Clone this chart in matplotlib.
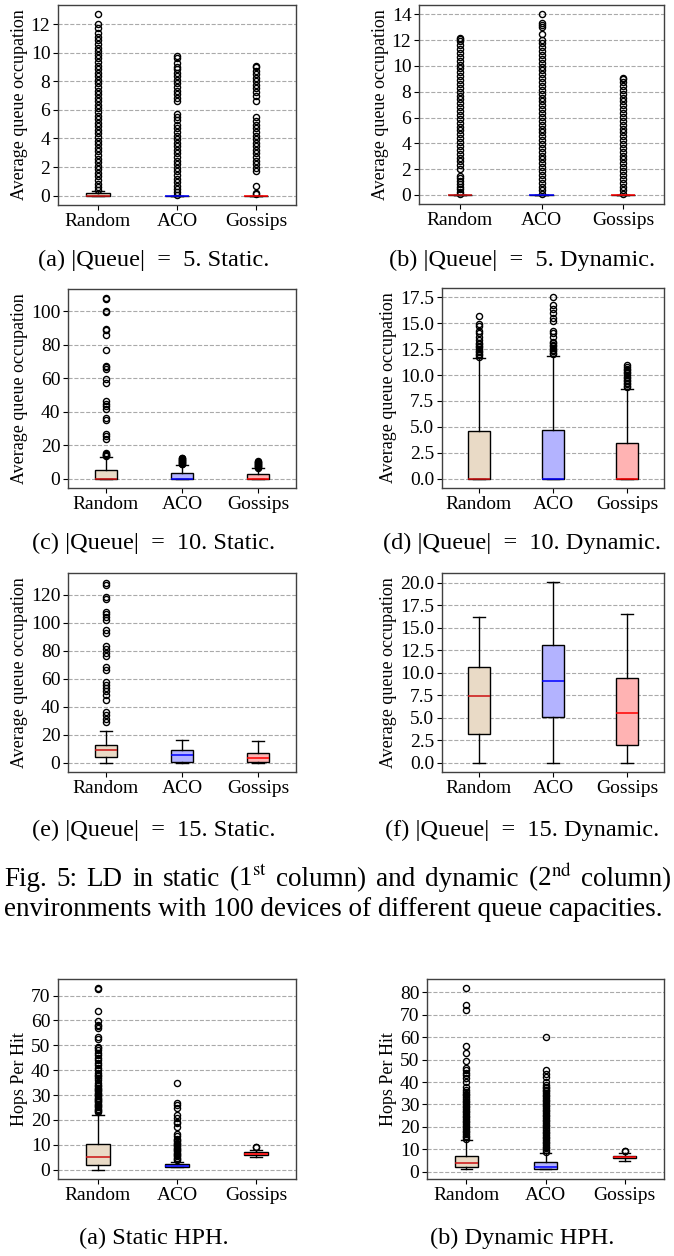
import matplotlib
matplotlib.use("Agg")
import matplotlib.pyplot as plt
from matplotlib.ticker import FormatStrFormatter

plt.rcParams["font.family"] = ["Liberation Serif", "DejaVu Serif"]
plt.rcParams["mathtext.fontset"] = "stix"

metodos = ["Random", "ACO", "Gossips"]

# cajas: [whislo, q1, med, q3, whishi] por metodo
q5_static_box = [[0, 0, 0, 0.17, 0.36], [0, 0, 0, 0, 0], [0, 0, 0, 0, 0]]
q5_static_fl = [
    [0.4, 0.6, 0.85, 1.1, 1.35, 1.6, 1.85, 2.1, 2.35, 2.6, 2.85, 3.1, 3.35, 3.6, 3.85, 4.1,
     4.35, 4.6, 4.85, 5.1, 5.35, 5.6, 5.85, 6.1, 6.35, 6.6, 6.85, 7.1, 7.35, 7.6, 7.85, 8.1,
     8.35, 8.6, 8.85, 9.1, 9.35, 9.6, 9.85, 10.1, 10.35, 10.6, 10.85, 11.1, 11.4, 11.7, 12.0, 12.7],
    [0.05, 0.25, 0.45, 0.7, 0.95, 1.2, 1.45, 1.7, 1.95, 2.2, 2.45, 2.7, 2.95, 3.2, 3.45, 3.7,
     3.95, 4.2, 4.45, 4.7, 4.95, 5.3, 5.5, 5.7, 6.6, 6.85, 7.1, 7.35, 7.6, 7.85, 8.1, 8.35,
     8.6, 8.85, 9.0, 9.3, 9.6, 9.8],
    [0.1, 0.2, 0.65, 1.7, 1.95, 2.2, 2.45, 2.7, 2.95, 3.2, 3.45, 3.7, 3.95, 4.2, 4.45, 4.7,
     4.95, 5.2, 5.5, 6.6, 7.0, 7.25, 7.5, 7.75, 8.0, 8.25, 8.5, 8.75, 9.0, 9.1],
]

q5_dynamic_box = [[0, 0, 0, 0, 0], [0, 0, 0, 0, 0], [0, 0, 0, 0, 0]]
q5_dynamic_fl = [
    [0.05, 0.25, 0.45, 0.65, 0.85, 1.1, 1.3, 1.5, 2.0, 2.3, 2.6, 2.9, 3.2, 3.5, 3.8, 4.1,
     4.4, 4.7, 5.0, 5.3, 5.6, 5.9, 6.2, 6.5, 6.8, 7.1, 7.4, 7.7, 8.0, 8.3, 8.6, 8.9, 9.2,
     9.5, 9.8, 10.1, 10.4, 10.7, 11.0, 11.3, 11.6, 11.9, 12.1, 12.2],
    [0.05, 0.35, 0.65, 0.95, 1.25, 1.55, 1.85, 2.15, 2.45, 2.75, 3.05, 3.35, 3.65, 3.95, 4.25,
     4.55, 4.85, 5.15, 5.45, 5.75, 6.05, 6.35, 6.65, 6.95, 7.25, 7.55, 7.85, 8.15, 8.45, 8.75,
     9.05, 9.35, 9.65, 9.95, 10.25, 10.55, 10.85, 11.15, 11.45, 11.75, 12.0, 12.5, 13.0,
     13.2, 13.3, 14.0],
    [0.05, 0.35, 0.65, 0.95, 1.25, 1.55, 1.85, 2.15, 2.45, 2.75, 3.05, 3.35, 3.65, 3.95, 4.25,
     4.55, 4.85, 5.15, 5.45, 5.75, 6.05, 6.35, 6.65, 6.95, 7.25, 7.55, 7.85, 8.15, 8.45, 8.75,
     9.0, 9.1],
]

q10_static_box = [[0, 0, 0, 5.2, 12.9], [0, 0, 0, 3.4, 8.3], [0, 0, 0, 3.0, 6.4]]
q10_static_fl = [
    [13.5, 14.0, 14.5, 15.0, 15.5, 24.1, 25.4, 26.8, 35.4, 36.4, 41.7, 43.5, 44.9, 46.3, 57.3,
     59.6, 65.8, 66.6, 67.6, 77.1, 85.9, 88.7, 89.7, 99.8, 100.4, 107.4, 108.0],
    [8.7, 9.1, 9.5, 9.9, 10.3, 10.7, 11.1, 11.5, 11.9, 12.3, 12.6],
    [6.8, 7.2, 7.6, 8.0, 8.4, 8.8, 9.2, 9.6, 10.0, 10.4, 10.7],
]

q10_dynamic_box = [[0, 0, 0, 4.62, 11.6], [0, 0, 0, 4.75, 11.85], [0, 0, 0, 3.45, 8.65]]
q10_dynamic_fl = [
    [11.75, 11.9, 12.05, 12.2, 12.35, 12.5, 12.65, 12.8, 12.95, 13.1, 13.4, 13.7, 14.0, 14.2,
     14.7, 14.9, 15.7],
    [12.0, 12.15, 12.3, 12.45, 12.6, 12.75, 12.9, 13.05, 13.2, 13.7, 14.0, 14.2, 15.2, 15.5,
     16.0, 16.4, 16.7, 17.5],
    [8.8, 8.95, 9.1, 9.25, 9.4, 9.55, 9.7, 9.85, 10.0, 10.15, 10.3, 10.45, 10.6, 10.8, 11.0],
]

q15_static_box = [[0, 4.3, 9.5, 12.9, 22.9], [0, 1.0, 5.5, 9.5, 16.7], [0, 1.0, 3.3, 7.4, 15.7]]
q15_static_fl = [
    [29.3, 31.7, 34.0, 36.4, 44.8, 48.3, 51.4, 53.8, 55.5, 57.9, 66.7, 68.6, 76.2, 78.6, 81.0,
     83.3, 92.9, 94.8, 102.4, 104.3, 106.0, 107.9, 116.7, 118.6, 126.9, 128.6],
    [],
    [],
]

q15_dynamic_box = [[0, 3.2, 7.4, 10.65, 16.2], [0, 5.15, 9.15, 13.05, 20.1], [0, 2.0, 5.6, 9.4, 16.55]]
q15_dynamic_fl = [[], [], []]

hph_static_box = [[0, 2.0, 4.9, 10.1, 22.0], [1.0, 1.0, 1.4, 2.1, 3.1], [5.0, 5.8, 6.2, 7.0, 7.9]]
hph_static_fl = [
    [23, 23.5, 24, 24.5, 25, 25.5, 26, 26.5, 27, 27.5, 28, 28.5, 29, 29.5, 30, 30.5, 31, 31.5,
     32, 32.5, 33, 33.5, 34, 35, 36, 37, 37.5, 38, 39, 40, 41, 42, 43, 44, 45, 46, 47, 48, 49,
     49.5, 52.5, 53.3, 56.9, 57.6, 58.3, 59.9, 64, 72.7, 73.1],
    [3.8, 4.3, 4.8, 5.3, 5.8, 6.3, 6.8, 7.3, 7.8, 8.3, 8.8, 9.3, 9.8, 10.3, 10.8, 11.3, 11.8,
     12.5, 13.6, 14.5, 17.2, 18.6, 19.2, 20.6, 21.9, 24.6, 26.0, 26.9, 35.0],
    [8.9, 9.2],
]

hph_dynamic_box = [[1.0, 1.9, 4.0, 7.0, 14.0], [1.0, 1.0, 1.9, 4.2, 8.2], [4.9, 6.0, 6.4, 6.9, 8.2]]
hph_dynamic_fl = [
    [14.5, 15.25, 16, 16.75, 17.5, 18.25, 19, 19.75, 20.5, 21.25, 22, 22.75, 23.5, 24.25, 25,
     25.75, 26.5, 27.25, 28, 28.75, 29.5, 30.25, 31, 31.75, 32.5, 33.25, 34, 34.75, 35.5, 36.5,
     38, 40.2, 41.7, 43.2, 44, 45.5, 46.2, 49.2, 52.9, 56.2, 72, 74.5, 82],
    [8.9, 9.65, 10.4, 11.15, 11.9, 12.65, 13.4, 14.15, 14.9, 15.65, 16.4, 17.15, 17.9, 18.65,
     19.4, 20.15, 20.9, 21.65, 22.4, 23.15, 23.9, 24.65, 25.4, 26.15, 26.9, 27.65, 28.4, 29.15,
     29.9, 30.65, 31.4, 32.15, 32.9, 33.65, 34.4, 35.15, 35.9, 36.65, 37.4, 38.0, 38.7, 40.2,
     42.2, 43.7, 45.2, 59.9],
    [9.0, 9.3],
]

colores_caja = ["#e9dac6", "#b3b3ff", "#ffb3b3"]
colores_mediana = ["#cc1111", "blue", "red"]

W, H = 674, 1256
fig = plt.figure(figsize=(W / 100, H / 100), dpi=100)


def caja(izq, arriba, der, abajo, cajas, fliers, ylim, yticks, ylabel, decimal=False):
    ax = fig.add_axes([izq / W, 1 - abajo / H, (der - izq) / W, (abajo - arriba) / H])
    stats = []
    for nombre, c, f in zip(metodos, cajas, fliers):
        stats.append(dict(label=nombre, whislo=c[0], q1=c[1], med=c[2], q3=c[3],
                          whishi=c[4], fliers=f))
    bp = ax.bxp(stats, positions=[1, 2, 3], widths=0.3, patch_artist=True,
                flierprops=dict(marker="o", markerfacecolor="none", markeredgecolor="black",
                                markersize=4.4, markeredgewidth=1.0),
                whiskerprops=dict(color="black", linewidth=1),
                capprops=dict(color="black", linewidth=1))
    for i, b in enumerate(bp["boxes"]):
        b.set_facecolor(colores_caja[i])
        b.set_edgecolor("black")
        b.set_linewidth(1)
    for i, m in enumerate(bp["medians"]):
        m.set_color(colores_mediana[i])
        m.set_linewidth(1.1)
    ax.set_xlim(0.5, 3.5)
    ax.set_ylim(*ylim)
    ax.set_yticks(yticks)
    if decimal:
        ax.yaxis.set_major_formatter(FormatStrFormatter("%.1f"))
    ax.set_axisbelow(True)
    ax.yaxis.grid(True, linestyle="--", color="#aaaaaa", linewidth=0.8)
    ax.tick_params(labelsize=14, length=3.5, width=0.8, pad=2)
    ax.set_ylabel(ylabel, fontsize=13, labelpad=2)
    for s in ax.spines.values():
        s.set_color("#404040")
        s.set_linewidth(1.0)
    return ax


ylab = "Average queue occupation"
caja(58, 5, 296, 205, q5_static_box, q5_static_fl, (-0.65, 13.33), range(0, 13, 2), ylab)
caja(419, 5, 664, 204, q5_dynamic_box, q5_dynamic_fl, (-0.7, 14.72), range(0, 15, 2), ylab)
caja(68, 289, 296, 488, q10_static_box, q10_static_fl, (-5.4, 113.3), range(0, 101, 20), ylab)
caja(442, 288, 664, 488, q10_dynamic_box, q10_dynamic_fl, (-0.875, 18.375),
     [0, 2.5, 5, 7.5, 10, 12.5, 15, 17.5], ylab, decimal=True)
caja(68, 573, 296, 772, q15_static_box, q15_static_fl, (-6.45, 135.6), range(0, 121, 20), ylab)
caja(442, 573, 664, 772, q15_dynamic_box, q15_dynamic_fl, (-1.0, 21.1),
     [0, 2.5, 5, 7.5, 10, 12.5, 15, 17.5, 20], ylab, decimal=True)
caja(58, 979, 296, 1179, hph_static_box, hph_static_fl, (-3.8, 76.7), range(0, 71, 10), "Hops Per Hit")
caja(427, 979, 664, 1179, hph_dynamic_box, hph_dynamic_fl, (-3.3, 86.0), range(0, 81, 10), "Hops Per Hit")

subtitulos = [
    (154, 260, "(a) |Queue|  =  5. Static."),
    (522, 260, "(b) |Queue|  =  5. Dynamic."),
    (154, 543, "(c) |Queue|  =  10. Static."),
    (522, 543, "(d) |Queue|  =  10. Dynamic."),
    (154, 830, "(e) |Queue|  =  15. Static."),
    (522, 830, "(f) |Queue|  =  15. Dynamic."),
    (154, 1238, "(a) Static HPH."),
    (522, 1238, "(b) Dynamic HPH."),
]
for x, y, t in subtitulos:
    fig.text(x / W, 1 - y / H, t, ha="center", va="center", fontsize=17.5)

# primera linea del pie justificada a todo el ancho
linea1 = r"Fig. 5: LD in static (1$^{\mathrm{st}}$ column) and dynamic (2$^{\mathrm{nd}}$ column)"
palabras = linea1.split(" ")
r = fig.canvas.get_renderer()
textos = [fig.text(0, 1 - 886 / H, p, ha="left", va="baseline", fontsize=19.5) for p in palabras]
anchos = [t.get_window_extent(r).width for t in textos]
x0, x1 = 4, 671
hueco = (x1 - x0 - sum(anchos)) / (len(palabras) - 1)
x = x0
for t, a in zip(textos, anchos):
    t.set_x(x / W)
    x += a + hueco

fig.text(4 / W, 1 - 916 / H,
         "environments with 100 devices of different queue capacities.",
         ha="left", va="baseline", fontsize=19.5)

fig.savefig("out.png", dpi=100)
